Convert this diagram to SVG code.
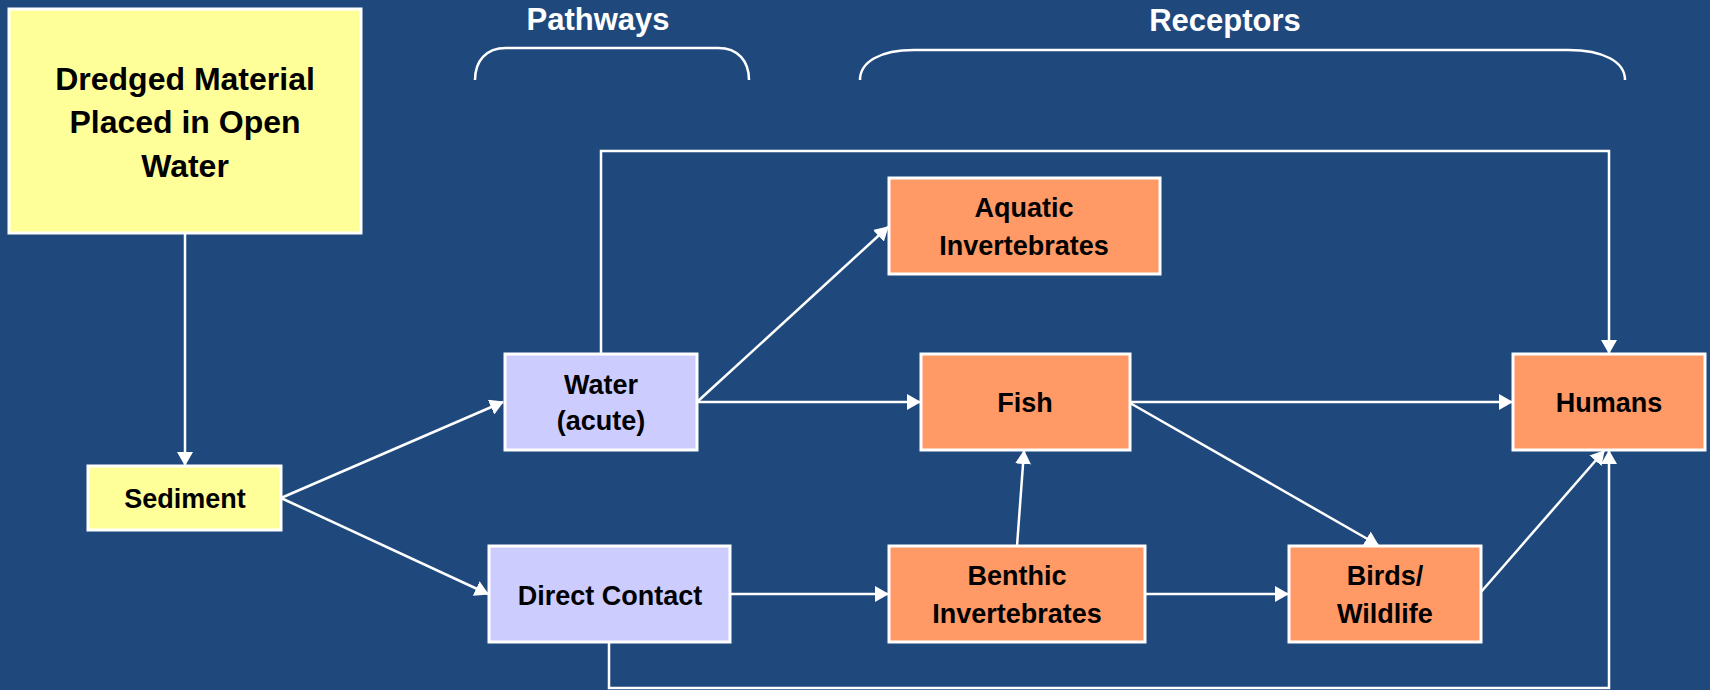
<svg xmlns="http://www.w3.org/2000/svg" width="1710" height="690" viewBox="0 0 1710 690">
  <style>
    .bg { fill: #1F497D; }
    .box { stroke: #FFFFFF; stroke-width: 3; }
    .src { fill: #FFFF99; }
    .path { fill: #CCCCFF; }
    .rec { fill: #FF9966; }
    .lbl { font-family: "Liberation Sans", Arial, sans-serif; font-weight: bold; font-size: 27px; fill: #000000; text-anchor: middle; }
    .big { font-size: 32px; }
    .hdr { font-family: "Liberation Sans", Arial, sans-serif; font-weight: bold; font-size: 31px; fill: #FFFFFF; text-anchor: middle; }
    .brace { fill: none; stroke: #FFFFFF; stroke-width: 2.5; }
    .conn { fill: none; stroke: #FFFFFF; stroke-width: 2.5; }
    .arr { marker-end: url(#head); }
  </style>
  <defs>
    <marker id="head" markerUnits="userSpaceOnUse" viewBox="0 0 14 16" refX="13" refY="8" markerWidth="14" markerHeight="16" orient="auto">
      <path d="M0,0 L14,8 L0,16 z" fill="#FFFFFF"/>
    </marker>
  </defs>

  <rect class="bg" x="0" y="0" width="1710" height="690"/>

  <!-- column headings -->
  <g id="headings">
    <text class="hdr" x="598" y="30">Pathways</text>
    <path class="brace" d="M475,80 C475,61 486,48 506,48 L718,48 C738,48 749,61 749,80"/>
    <text class="hdr" x="1225" y="31">Receptors</text>
    <path class="brace" d="M860,80 C860,62 880,50 914,50 L1568,50 C1604,50 1625,62 1625,80"/>
  </g>

  <!-- connectors -->
  <g id="connectors">
    <path class="conn arr" d="M185,234 L185,465"/>
    <path class="conn arr" d="M281,498 L503,402"/>
    <path class="conn arr" d="M281,498 L488,594"/>
    <path class="conn arr" d="M697,402 L888,227"/>
    <path class="conn arr" d="M697,402 L920,402"/>
    <path class="conn arr" d="M601,354 L601,151 L1609,151 L1609,353"/>
    <path class="conn arr" d="M1130,402 L1512,402"/>
    <path class="conn arr" d="M1130,403 L1378,545"/>
    <path class="conn arr" d="M1017,546 L1024,451"/>
    <path class="conn arr" d="M730,594 L888,594"/>
    <path class="conn arr" d="M1145,594 L1288,594"/>
    <path class="conn arr" d="M1481,592 L1604,451"/>
    <path class="conn arr" d="M609,642 L609,688 L1609,688 L1609,451"/>
  </g>

  <!-- nodes -->
  <g id="dredged">
    <rect class="box src" x="9" y="9" width="352" height="224"/>
    <text class="lbl big" x="185" y="90">Dredged Material</text>
    <text class="lbl big" x="185" y="133">Placed in Open</text>
    <text class="lbl big" x="185" y="177">Water</text>
  </g>
  <g id="sediment">
    <rect class="box src" x="88" y="466" width="193" height="64"/>
    <text class="lbl" x="185" y="508">Sediment</text>
  </g>
  <g id="water">
    <rect class="box path" x="505" y="354" width="192" height="96"/>
    <text class="lbl" x="601" y="394">Water</text>
    <text class="lbl" x="601" y="430">(acute)</text>
  </g>
  <g id="direct-contact">
    <rect class="box path" x="489" y="546" width="241" height="96"/>
    <text class="lbl" x="610" y="605">Direct Contact</text>
  </g>
  <g id="aquatic">
    <rect class="box rec" x="889" y="178" width="271" height="96"/>
    <text class="lbl" x="1024" y="217">Aquatic</text>
    <text class="lbl" x="1024" y="255">Invertebrates</text>
  </g>
  <g id="fish">
    <rect class="box rec" x="921" y="354" width="209" height="96"/>
    <text class="lbl" x="1025" y="412">Fish</text>
  </g>
  <g id="benthic">
    <rect class="box rec" x="889" y="546" width="256" height="96"/>
    <text class="lbl" x="1017" y="585">Benthic</text>
    <text class="lbl" x="1017" y="623">Invertebrates</text>
  </g>
  <g id="birds">
    <rect class="box rec" x="1289" y="546" width="192" height="96"/>
    <text class="lbl" x="1385" y="585">Birds/</text>
    <text class="lbl" x="1385" y="623">Wildlife</text>
  </g>
  <g id="humans">
    <rect class="box rec" x="1513" y="354" width="192" height="96"/>
    <text class="lbl" x="1609" y="412">Humans</text>
  </g>
</svg>
